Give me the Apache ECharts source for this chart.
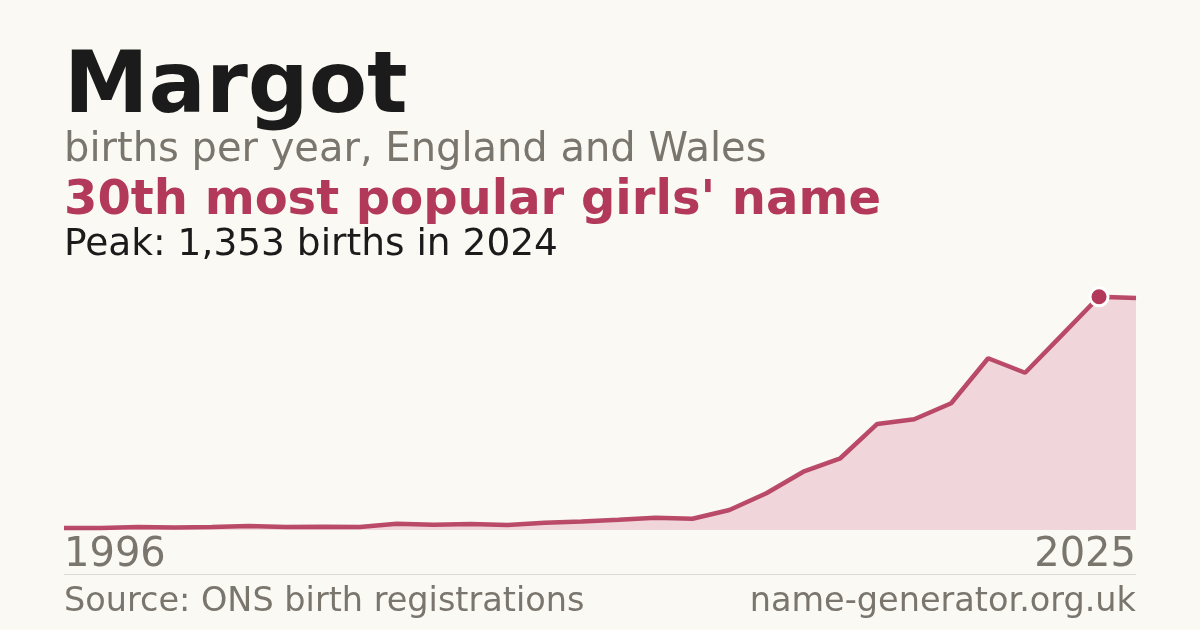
<!DOCTYPE html>
<html>
<head>
<meta charset="utf-8">
<script src="https://cdn.jsdelivr.net/npm/echarts@6/dist/echarts.min.js"></script>
<style>
html,body{margin:0;padding:0;background:#faf9f4;}
#chart{width:1200px;height:630px;}
</style>
</head>
<body>
<div id="chart"></div>
<script>
const years = ['1996','1997','1998','1999','2000','2001','2002','2003','2004','2005','2006','2007','2008','2009','2010','2011','2012','2013','2014','2015','2016','2017','2018','2019','2020','2021','2022','2023','2024','2025'];
const births = [11,12,17,15,17,23,17,19,17,36,31,35,29,42,50,60,71,65,116,213,338,416,615,642,735,996,912,1132,1353,1345];
const nameText = 'Margot';
const subtitleText = 'births per year, England and Wales';
const rankText = "30th most popular girls' name";
const sourceText = 'Source: ONS birth registrations';
const siteText = 'name-generator.org.uk';

let peakIdx = 0;
births.forEach((v, i) => { if (v > births[peakIdx]) peakIdx = i; });
const peakText = 'Peak: ' + births[peakIdx].toLocaleString('en-GB') + ' births in ' + years[peakIdx];

const FONT = '"DejaVu Sans", sans-serif';
const RED = '#b3395a';
const GREY = '#7a756d';

const chart = echarts.init(document.getElementById('chart'), null, {renderer: 'canvas'});
chart.setOption({
  backgroundColor: '#faf9f4',
  animation: false,
  title: [
    {text: nameText, left: 59, top: 42, textStyle: {fontFamily: FONT, fontSize: 85, fontWeight: 'bold', color: '#1b1b1b'}},
    {text: subtitleText, left: 59, top: 126, textStyle: {fontFamily: FONT, fontSize: 40, fontWeight: 'normal', color: GREY}},
    {text: rankText, left: 59, top: 173, textStyle: {fontFamily: FONT, fontSize: 48, fontWeight: 'bold', color: RED}},
    {text: peakText, left: 59, top: 221, textStyle: {fontFamily: FONT, fontSize: 37.5, fontWeight: 'normal', color: '#1b1b1b'}},
    {text: sourceText, left: 59, top: 580, textStyle: {fontFamily: FONT, fontSize: 33.5, fontWeight: 'normal', color: GREY}},
    {text: siteText, right: 59, top: 580, textStyle: {fontFamily: FONT, fontSize: 33.5, fontWeight: 'normal', color: GREY}}
  ],
  grid: {left: 64, right: 64, top: 288.6, bottom: 100, containLabel: false},
  xAxis: {
    type: 'category',
    data: years,
    boundaryGap: false,
    axisLine: {show: false},
    axisTick: {show: false},
    splitLine: {show: false},
    axisLabel: {
      interval: function (i) { return i === 0 || i === years.length - 1; },
      alignMinLabel: 'left',
      alignMaxLabel: 'right',
      fontFamily: FONT,
      fontSize: 40,
      color: GREY,
      margin: 6
    }
  },
  yAxis: {
    type: 'value',
    min: 0,
    max: 1400,
    show: false,
    splitLine: {show: false}
  },
  graphic: [
    {type: 'line', shape: {x1: 64, y1: 574.5, x2: 1136, y2: 574.5}, style: {stroke: '#dedad2', lineWidth: 1}, silent: true}
  ],
  series: [
    {
      type: 'line',
      data: births,
      symbol: 'none',
      clip: false,
      lineStyle: {color: RED, width: 4.5, opacity: 0.9},
      areaStyle: {color: '#f0d5da', opacity: 1},
      z: 2
    },
    {
      type: 'scatter',
      data: [[peakIdx, births[peakIdx]]],
      symbol: 'circle',
      symbolSize: 18,
      clip: false,
      itemStyle: {color: RED, borderColor: '#ffffff', borderWidth: 3, opacity: 1},
      z: 5
    }
  ]
});
</script>
</body>
</html>
